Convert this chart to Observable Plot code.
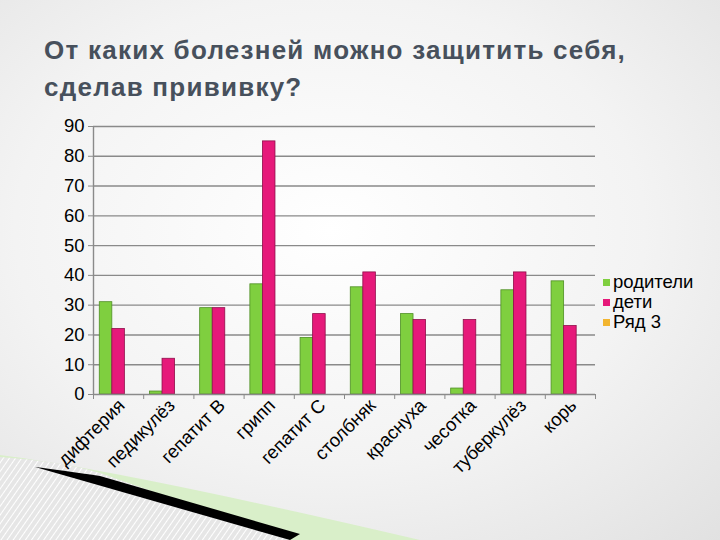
<!DOCTYPE html>
<html>
<head>
<meta charset="utf-8">
<script src="https://cdn.jsdelivr.net/npm/d3@7"></script>
<script src="https://cdn.jsdelivr.net/npm/@observablehq/plot@0.6"></script>
<style>
  html, body { margin: 0; padding: 0; }
  body {
    width: 720px; height: 540px; position: relative; overflow: hidden;
    background: radial-gradient(ellipse 700px 520px at 330px 230px, #ffffff 0%, #f3f3f3 45%, #d8d8d8 100%);
    font-family: "Liberation Sans", Arial, sans-serif;
  }
  #deco { position: absolute; left: 0; top: 0; }
  #title {
    position: absolute; left: 44px; top: 32px; width: 676px;
    font-size: 26px; font-weight: bold; color: #47505c; line-height: 37px; letter-spacing: 1.25px;
  }
  #chart { position: absolute; left: 0; top: 0; }
  #legend { position: absolute; left: 603px; top: 272px; font-size: 18.5px; color: #000; line-height: 20px; }
  #legend div { display: flex; align-items: center; }
  #legend span.sw { display: inline-block; width: 7px; height: 7px; margin-right: 3px; }
</style>
</head>
<body>
<svg id="deco" width="720" height="540">
  <defs>
    <pattern id="hatch" width="5" height="5" patternUnits="userSpaceOnUse" patternTransform="rotate(35)">
      <rect width="5" height="5" fill="#e6e6e6"/>
      <line x1="0" y1="0" x2="0" y2="5" stroke="#ffffff" stroke-width="2"/>
    </pattern>
  </defs>
  <path d="M0,455 Q120,470 420,540 L0,540 Z" fill="#d9efc9"/>
  <path d="M0,457 Q60,461 100,473 L290,540 L0,540 Z" fill="url(#hatch)"/>
  <path d="M35,467 Q60,470 100,476 L300,534 L290,540 Z" fill="#000"/>
</svg>
<div id="title">От каких болезней можно защитить себя,<br>сделав прививку?</div>
<div id="chart"></div>
<div id="legend"></div>
<script>
const categories = ["дифтерия", "педикулёз", "гепатит В", "грипп", "гепатит С", "столбняк", "краснуха", "чесотка", "туберкулёз", "корь"];
const seriesNames = ["родители", "дети", "Ряд 3"];
const seriesColors = ["#7fcf3f", "#e6197a", "#f2b530"];
const seriesStrokes = ["#4f8f25", "#8f0f4a", "#b07a10"];
const parents = [31, 1, 29, 37, 19, 36, 27, 2, 35, 38];
const children = [22, 12, 29, 85, 27, 41, 25, 25, 41, 23];
const series3 = [0, 0, 0, 0, 0, 0, 0, 0, 0, 0];
const yTicks = [0, 10, 20, 30, 40, 50, 60, 70, 80, 90];

const allSeries = [parents, children, series3];
const rows = [];
allSeries.forEach((vals, s) => vals.forEach((v, i) => rows.push({i, s, name: seriesNames[s], v})));
const shown = rows.filter(d => d.v > 0);

const chart = Plot.plot({
  width: 720,
  height: 540,
  marginLeft: 93,
  marginRight: 125,
  marginTop: 126,
  marginBottom: 146,
  style: {background: "transparent", fontFamily: "Liberation Sans, Arial, sans-serif", fontSize: "18px", color: "#000"},
  x: {type: "linear", domain: [0, categories.length], axis: null},
  y: {domain: [0, 90], axis: null},
  color: {domain: seriesNames, range: seriesColors},
  marks: [
    Plot.ruleY(yTicks.filter(t => t > 0), {x1: 0, x2: categories.length, stroke: "#8a8a8a", strokeWidth: 1.4}),
    Plot.rectY(shown, {
      x1: d => d.i + 0.125 + d.s * 0.25,
      x2: d => d.i + 0.375 + d.s * 0.25,
      y1: 0, y2: "v",
      fill: "name",
      stroke: d => seriesStrokes[d.s], strokeWidth: 0.8
    }),
    Plot.ruleY([0], {x1: 0, x2: categories.length, stroke: "#8a8a8a", strokeWidth: 1.4}),
    Plot.ruleX([0], {y1: 0, y2: 90, stroke: "#8a8a8a", strokeWidth: 1.4}),
    Plot.axisY({ticks: yTicks, tickSize: 5, stroke: "#8a8a8a", tickPadding: 4, fontSize: 18.5, fill: "#000", label: null}),
    Plot.axisX({ticks: d3.range(0, categories.length + 1), tickSize: 5, stroke: "#8a8a8a", tickFormat: () => "", label: null}),
    Plot.axisX({
      ticks: categories.map((_, i) => i + 0.5),
      tickFormat: d => categories[Math.floor(d)],
      tickRotate: -45, tickSize: 0, tickPadding: 8, dx: 3, fontSize: 18.5, fill: "#000", label: null
    })
  ]
});
document.getElementById("chart").appendChild(chart);

const legend = document.getElementById("legend");
seriesNames.forEach((n, s) => {
  const row = document.createElement("div");
  const sw = document.createElement("span");
  sw.className = "sw";
  sw.style.background = seriesColors[s];
  row.appendChild(sw);
  row.appendChild(document.createTextNode(n));
  legend.appendChild(row);
});
</script>
</body>
</html>
